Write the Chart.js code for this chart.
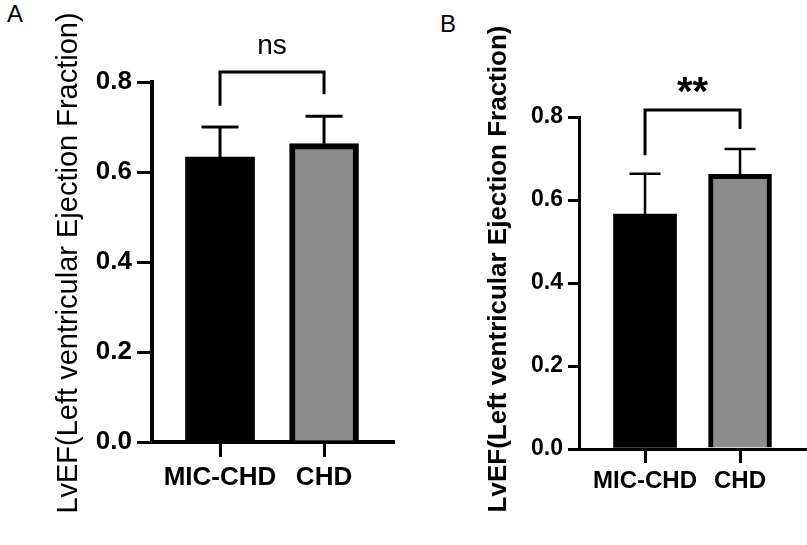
<!DOCTYPE html>
<html>
<head>
<meta charset="utf-8">
<script src="https://cdn.jsdelivr.net/npm/chart.js@4.4.0/dist/chart.umd.min.js"></script>
<style>
  html, body { margin: 0; padding: 0; background: #fff; }
  body { width: 807px; height: 545px; position: relative; overflow: hidden; font-family: 'Liberation Sans', Arial, sans-serif; }
  .panel { position: absolute; top: 0; height: 545px; }
  .letter { position: absolute; font-size: 24px; line-height: 24px; color: #000; }
</style>
</head>
<body>
<div class="letter" style="left:7px;top:2px">A</div>
<div class="letter" style="left:440px;top:12px">B</div>
<div class="panel" style="left:0;width:400px"><canvas id="chartA" width="400" height="545"></canvas></div>
<div class="panel" style="left:400px;width:407px"><canvas id="chartB" width="407" height="545"></canvas></div>
<script>
// groups and values
const categories = ['MIC-CHD', 'CHD'];
const lvefA = [0.633, 0.663];
const sdA = [0.067, 0.061];
const lvefB = [0.566, 0.662];
const sdB = [0.097, 0.061];
const yTicks = [0, 0.2, 0.4, 0.6, 0.8];
// significance bracket: top, left leg end, right leg end
const bracketA = [0.822, 0.747, 0.773];
const bracketB = [0.817, 0.708, 0.771];
const sigA = 'ns';
const sigB = '**';
const yTitle = 'LvEF(Left ventricular Ejection Fraction)';

const FONT = "'Liberation Sans', Arial, sans-serif";

// error bars (upper only), bracket with label, rotated y title
function sigPlugin(sd, bracket, sig, st) {
  return {
    id: 'errSig',
    afterDatasetsDraw(chart) {
      const { ctx, scales: { x, y } } = chart;
      const meta = chart.getDatasetMeta(0);
      const pts = chart.data.datasets[0].data;
      ctx.save();
      ctx.strokeStyle = '#000';
      ctx.lineWidth = st.errWidth;
      meta.data.forEach((bar, i) => {
        const top = y.getPixelForValue(pts[i].y + sd[i]);
        ctx.beginPath();
        ctx.moveTo(bar.x, bar.y);
        ctx.lineTo(bar.x, top);
        ctx.moveTo(bar.x - st.cap / 2, top);
        ctx.lineTo(bar.x + st.cap / 2, top);
        ctx.stroke();
      });
      const x1 = x.getPixelForValue(1);
      const x2 = x.getPixelForValue(2);
      const yt = y.getPixelForValue(bracket[0]);
      ctx.lineWidth = st.bracketWidth;
      ctx.beginPath();
      ctx.moveTo(x1, y.getPixelForValue(bracket[1]));
      ctx.lineTo(x1, yt);
      ctx.lineTo(x2, yt);
      ctx.lineTo(x2, y.getPixelForValue(bracket[2]));
      ctx.stroke();
      ctx.fillStyle = '#000';
      ctx.font = st.sigFont;
      ctx.textAlign = 'center';
      ctx.textBaseline = 'alphabetic';
      ctx.fillText(sig, (x1 + x2) / 2, yt - st.sigGap);

      // y axis title
      ctx.translate(st.titleX, st.titleY);
      ctx.rotate(-Math.PI / 2);
      ctx.font = st.titleWeight + ' ' + st.titleSize + 'px ' + FONT;
      ctx.textBaseline = 'middle';
      ctx.fillText(yTitle, 0, 0);
      ctx.restore();
    }
  };
}

function buildChart(id, vals, sd, bracket, sig, st) {
  return new Chart(document.getElementById(id), {
    type: 'bar',
    plugins: [sigPlugin(sd, bracket, sig, st)],
    data: {
      datasets: [{
        data: vals.map((v, i) => ({ x: i + 1, y: v })),
        backgroundColor: ['#000000', '#8c8c8c'],
        borderColor: '#000000',
        borderWidth: [0, st.barBorder],
        borderSkipped: 'start',
        barThickness: st.barW
      }]
    },
    options: {
      responsive: false,
      animation: false,
      layout: { padding: { left: 0, top: st.top, right: st.right, bottom: 0 } },
      plugins: { legend: { display: false }, tooltip: { enabled: false } },
      scales: {
        x: {
          type: 'linear',
          offset: false,
          min: st.xMin,
          max: st.xMax,
          afterBuildTicks: s => { s.ticks = categories.map((c, i) => ({ value: i + 1 })); },
          afterFit: s => { s.height = st.xHeight; },
          ticks: {
            callback: v => categories[v - 1],
            color: '#000',
            font: { family: FONT, size: st.catSize, weight: 'bold' },
            padding: st.catPad,
            maxRotation: 0,
            autoSkip: false
          },
          grid: { offset: false, drawOnChartArea: false, tickLength: st.xTickLen, lineWidth: st.gridW, color: '#000' },
          border: { width: st.axisW, color: '#000' }
        },
        y: {
          min: 0,
          max: 0.8,
          afterBuildTicks: s => { s.ticks = yTicks.map(v => ({ value: v })); },
          afterFit: s => { s.width = st.yWidth; },
          ticks: {
            callback: v => v.toFixed(1),
            color: '#000',
            font: { family: FONT, size: st.tickSize, weight: 'bold' },
            padding: 5
          },
          grid: { drawOnChartArea: false, tickLength: st.yTickLen, lineWidth: st.gridW, color: '#000' },
          border: { width: st.axisW, color: '#000' }
        }
      }
    }
  });
}

buildChart('chartA', lvefA, sdA, bracketA, sigA, {
  top: 82, right: 7, yWidth: 152, xHeight: 103,
  xMin: 0.346, xMax: 2.663, barW: 69, barBorder: 6,
  catSize: 26, catPad: 5, tickSize: 26, titleSize: 29, titleWeight: 'normal', titleX: 69, titleY: 263,
  xTickLen: 15, yTickLen: 15, gridW: 3, axisW: 4,
  errWidth: 3, cap: 37, bracketWidth: 3,
  sigFont: 'normal 28px ' + FONT, sigGap: 18
});

buildChart('chartB', lvefB, sdB, bracketB, sigB, {
  top: 117, right: 2, yWidth: 179, xHeight: 96,
  xMin: 0.305, xMax: 2.684, barW: 63, barBorder: 5,
  catSize: 24, catPad: 4, tickSize: 23, titleSize: 26, titleWeight: 'bold', titleX: 99, titleY: 269,
  xTickLen: 14, yTickLen: 11, gridW: 3, axisW: 3,
  errWidth: 2.5, cap: 31, bracketWidth: 3,
  sigFont: 'bold 40px ' + FONT, sigGap: 5
});
</script>
</body>
</html>
